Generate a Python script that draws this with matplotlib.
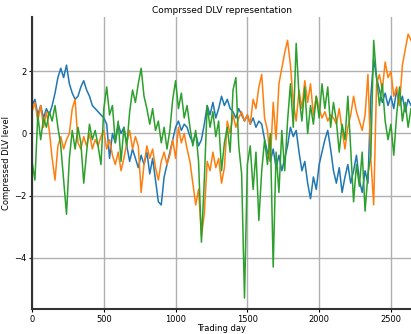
import numpy as np
import matplotlib
matplotlib.use("Agg")
import matplotlib.pyplot as plt

# trading day grid (every 20 days)
days = np.arange(0, 2660, 20)

blue = [0.9, 1.1, 0.6, 0.9, 0.5, 0.8, 0.6, 0.9, 1.3, 1.8,
        2.1, 1.8, 2.2, 1.6, 1.3, 1.1, 1.2, 1.5, 1.7, 1.4,
        1.2, 0.9, 0.8, 0.7, 0.6, 0.5, 0.3, -0.8, 0.0, -0.3,
        0.3, 0.0, 0.2, -0.4, -0.9, -0.5, -0.8, -1.1, -0.7, -1.0,
        -0.6, -1.3, -0.8, -1.5, -2.2, -2.3, -1.4, -1.0, -0.6, -0.2,
        0.2, 0.4, 0.1, 0.3, 0.2, -0.1, -0.3, 0.0, -0.4, -0.2,
        0.3, 0.9, 0.6, 1.0, 0.5, 0.8, 1.2, 0.9, 1.1, 0.8,
        0.7, 0.5, 0.8, 0.6, 0.4, 0.6, 0.3, 0.5, 0.2, 0.4,
        0.3, -0.2, -0.6, -0.9, -0.5, -1.1, -0.7, -1.2, -0.8, -0.4,
        0.2, -0.1, 0.1, -0.6, -1.2, -0.9, -1.6, -2.1, -1.4, -1.8,
        -1.0, -0.6, -0.2, 0.1, -0.5, -1.2, -1.6, -1.1, -1.9, -1.4,
        -1.0, -1.6, -1.2, -0.7, -1.5, -1.9, -1.2, -1.6, 1.2, 2.4,
        1.8, 1.4, 1.0, 1.3, 0.9, 1.2, 0.8, 1.4, 0.9, 1.2,
        0.7, 1.1, 0.9]

orange = [0.7, 1.0, 0.4, 0.9, 0.2, 0.7, 0.1, -0.8, -1.5, -0.4,
          -0.1, -0.5, -0.2, 0.0, 0.8, 1.1, -0.3, -0.5, -0.1, -0.4,
          0.0, -0.5, -0.2, -0.4, -0.1, 0.1, -0.5, -0.2, -0.7, -1.0,
          -0.6, -1.2, -0.8, -0.3, 0.1, -0.5, -0.1, -0.4, -1.9, -1.0,
          -0.4, -0.8, -0.5, -1.1, -1.5, -0.9, -0.6, -1.0, -0.7, -0.2,
          -0.8, 0.2, -0.3, 0.0, -0.5, -0.9, -1.6, -2.3, -1.8, -3.3,
          -2.6, -0.9, -1.2, -0.6, -1.1, -0.8, -1.6, -1.1, 0.4, 0.0,
          0.6, 0.2, 0.5, 0.7, 0.4, 0.6, 0.3, 1.1, 0.8, 1.5,
          1.9, 0.5, 0.1, -0.9, 1.0, -0.2, 1.6, 2.1, 2.6, 3.0,
          2.2, 1.0, 0.4, 1.4, 0.8, 1.7, 1.0, 1.6, 0.6, 1.2,
          0.8, 0.5, 0.7, 0.4, 0.6, 0.5, 0.3, 0.8, 0.1, -0.5,
          0.2, 0.6, 1.2, 0.7, 0.4, 0.1, 0.6, 1.9, -0.8, -2.3,
          1.6, 1.9, 1.4, 2.3, 1.8, 2.0, 1.2, 1.5, 0.9, 2.2,
          2.7, 3.2, 3.0]

green = [-0.9, -1.5, 0.6, -0.2, 0.5, 0.2, 0.7, 0.4, 0.9, 0.2,
         -0.4, -1.5, -2.6, -0.8, 0.1, -0.5, 0.2, -0.3, -1.6, -0.6,
         0.3, -0.2, 0.1, -0.4, -1.0, 0.8, 1.5, 0.6, 0.9, -0.3,
         0.4, -0.9, 0.2, -0.4, 0.7, 1.4, 1.0, 1.6, 2.1, 1.2,
         0.8, 0.3, 0.8, 0.1, 0.4, -0.3, 0.2, -0.5, 0.1, 1.1,
         1.7, 0.8, 1.3, 0.5, 0.9, 0.2, -0.4, 0.1, -0.9, -3.5,
         -1.5, 0.9, 0.2, 0.7, -0.1, 0.4, -1.2, -0.3, 0.2, -0.6,
         1.4, 1.8, -0.4, -1.3, -5.3, -1.0, -0.4, -1.8, -0.6, -2.8,
         -1.2, -0.2, -1.0, 0.0, -4.3, -0.6, -1.9, 0.1, -1.2, 0.4,
         1.6, 0.2, 2.9, 1.2, 0.4, 1.5, 0.0, 0.9, 0.3, 1.2,
         0.5, 1.6, 0.8, 1.5, 0.2, 1.0, 0.4, -0.6, 0.3, -0.2,
         1.2, -0.5, -2.2, -1.0, -1.7, -0.6, -2.5, -1.3, -0.7, 3.0,
         1.8, 0.9, 1.6, 0.4, -0.2, 0.3, -0.7, 0.6, 1.5, 0.4,
         1.0, 0.2, 0.8]

fig = plt.figure(figsize=(4.11, 3.34), dpi=100)
ax = fig.add_axes([0.078, 0.075, 0.922, 0.874])

for series, c in zip([blue, orange, green], ['tab:blue', 'tab:orange', 'tab:green']):
    ax.plot(days, series, color=c, lw=1.1)

ax.set_xlim(0, 2640)
ax.set_ylim(-5.65, 3.75)
ax.set_xticks([0, 500, 1000, 1500, 2000, 2500])
ax.set_yticks([-4, -2, 0, 2])
ax.grid(True, color='#b0b0b0', lw=1)
ax.set_axisbelow(True)

for s in ['top', 'right']:
    ax.spines[s].set_visible(False)
for s in ['left', 'bottom']:
    ax.spines[s].set_color('#333333')
    ax.spines[s].set_linewidth(1.5)

ax.tick_params(labelsize=6, length=2.5, width=0.8, pad=1.5)
ax.set_title('Comprssed DLV representation', fontsize=6.5, pad=3)
ax.set_xlabel('Trading day', fontsize=6, labelpad=0.5)
ax.set_ylabel('Compressed DLV level', fontsize=6, labelpad=2)

fig.savefig('out.png', dpi=100)
